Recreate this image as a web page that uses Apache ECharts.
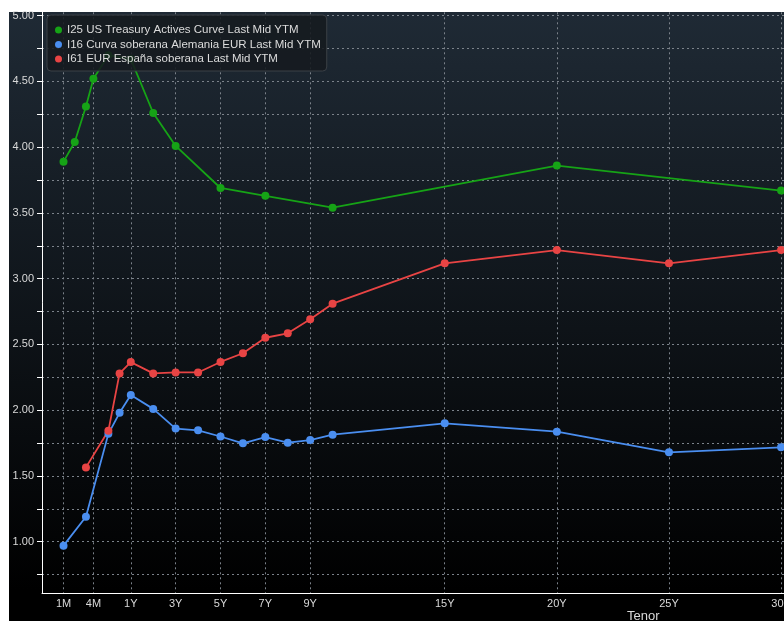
<!DOCTYPE html>
<html>
<head>
<meta charset="utf-8">
<script src="https://cdn.jsdelivr.net/npm/echarts@6/dist/echarts.min.js"></script>
<style>
  body { margin: 0; background: #fff; }
  #main { width: 784px; height: 621px; }
</style>
</head>
<body>
<div id="main"></div>
<script>
// tenors, yields in %
const usTenors = ['1M', '2M', '3M', '4M', '6M', '1Y', '2Y', '3Y', '5Y', '7Y', '10Y', '20Y', '30Y'];
const usYields = [3.89, 4.04, 4.31, 4.52, 4.70, 4.67, 4.26, 4.01, 3.69, 3.63, 3.54, 3.86, 3.67];

const deTenors = ['1M', '3M', '6M', '9M', '1Y', '2Y', '3Y', '4Y', '5Y', '6Y', '7Y', '8Y', '9Y', '10Y', '15Y', '20Y', '25Y', '30Y'];
const deYields = [0.97, 1.19, 1.82, 1.98, 2.115, 2.01, 1.86, 1.847, 1.80, 1.748, 1.796, 1.753, 1.773, 1.814, 1.90, 1.837, 1.68, 1.718];

const esTenors = ['3M', '6M', '9M', '1Y', '2Y', '3Y', '4Y', '5Y', '6Y', '7Y', '8Y', '9Y', '10Y', '15Y', '20Y', '25Y', '30Y'];
const esYields = [1.565, 1.843, 2.28, 2.366, 2.28, 2.287, 2.287, 2.367, 2.433, 2.551, 2.585, 2.691, 2.81, 3.117, 3.218, 3.117, 3.218];

const seriesNames = [
    'I25 US Treasury Actives Curve Last Mid YTM',
    'I16 Curva soberana Alemania EUR Last Mid YTM',
    'I61 EUR España soberana Last Mid YTM'
];

const xTickTenors = ['1M', '4M', '1Y', '3Y', '5Y', '7Y', '9Y', '15Y', '20Y', '25Y', '30Y'];
const yTicks = [0.75, 1, 1.25, 1.5, 1.75, 2, 2.25, 2.5, 2.75, 3, 3.25, 3.5, 3.75, 4, 4.25, 4.5, 4.75, 5];
const yLabels = [1, 1.5, 2, 2.5, 3, 3.5, 4, 4.5, 5];

// bloomberg stretches the short end: 1M, 3M, 6M, 1Y sit one step apart
const monthAnchors = [[1, -2], [3, -1], [6, 0], [12, 1]];

function tenorPos(t) {
    var n = parseFloat(t);
    if (t.slice(-1) == 'Y') return n;
    for (var i = 0; i < monthAnchors.length - 1; i++) {
        var a = monthAnchors[i], b = monthAnchors[i + 1];
        if (n >= a[0] && n <= b[0]) {
            return a[1] + (n - a[0]) / (b[0] - a[0]) * (b[1] - a[1]);
        }
    }
    return n / 12;
}

function toPoints(tenors, yields) {
    var pts = [];
    for (var i = 0; i < tenors.length; i++) {
        pts.push([tenorPos(tenors[i]), yields[i]]);
    }
    return pts;
}

var xTickPos = xTickTenors.map(tenorPos);

function xLabel(v) {
    for (var i = 0; i < xTickPos.length; i++) {
        if (Math.abs(xTickPos[i] - v) < 0.01) return xTickTenors[i];
    }
    return '';
}

var font = 'Liberation Sans';
var gridLine = { show: true, lineStyle: { color: '#7b828a', type: [2, 3], width: 1 } };

function lineSeries(name, color, tenors, yields) {
    return {
        name: name,
        type: 'line',
        data: toPoints(tenors, yields),
        symbol: 'circle',
        symbolSize: 8,
        color: color,
        lineStyle: { width: 1.8, color: color },
        itemStyle: { color: color }
    };
}

var myChart = echarts.init(document.getElementById('main'));
var option = {
    animation: false,
    backgroundColor: '#fff',
    graphic: [{
        type: 'rect',
        z: -100,
        silent: true,
        shape: { x: 9, y: 12, width: 775, height: 609 },
        style: {
            fill: new echarts.graphic.LinearGradient(0, 0, 0, 1, [
                { offset: 0, color: '#1f2a35' },
                { offset: 0.95, color: '#000000' },
                { offset: 1, color: '#000000' }
            ])
        }
    }],
    title: {
        text: 'Tenor',
        left: 627,
        top: 610,
        padding: 0,
        textStyle: { color: '#d9d9d9', fontSize: 13, fontWeight: 'normal', fontFamily: font }
    },
    grid: {
        left: 42,
        top: 12.3,
        right: 0,
        bottom: 27.5,
        outerBoundsMode: 'none',
        containLabel: false
    },
    legend: {
        data: seriesNames,
        orient: 'vertical',
        left: 47,
        top: 15,
        icon: 'circle',
        itemWidth: 7,
        itemHeight: 7,
        itemGap: 2.5,
        padding: [9, 6, 6, 8],
        backgroundColor: 'rgba(22,26,31,0.88)',
        borderColor: '#3b4046',
        borderWidth: 1,
        borderRadius: 4,
        textStyle: { color: '#dcdcdc', fontSize: 11.5, fontFamily: font, lineHeight: 12 }
    },
    xAxis: {
        type: 'value',
        min: -2.96,
        max: 30.13,
        axisLine: { show: true, onZero: false, lineStyle: { color: '#ffffff', width: 1 } },
        axisTick: { show: false, customValues: xTickPos },
        axisLabel: {
            customValues: xTickPos,
            formatter: xLabel,
            color: '#d9d9d9',
            fontSize: 11,
            fontFamily: font,
            margin: 5
        },
        splitLine: gridLine
    },
    yAxis: {
        type: 'value',
        min: 0.606,
        max: 5.026,
        axisLine: { show: true, onZero: false, lineStyle: { color: '#ffffff', width: 1 } },
        axisTick: { show: true, length: 5, customValues: yTicks, lineStyle: { color: '#ffffff' } },
        axisLabel: {
            customValues: yLabels,
            formatter: function (v) { return v.toFixed(2); },
            color: '#d9d9d9',
            fontSize: 11,
            fontFamily: font,
            margin: 8
        },
        splitLine: gridLine
    },
    series: [
        lineSeries(seriesNames[0], '#16a316', usTenors, usYields),
        lineSeries(seriesNames[1], '#4a8ef0', deTenors, deYields),
        lineSeries(seriesNames[2], '#e84444', esTenors, esYields)
    ]
};

myChart.setOption(option);
</script>
</body>
</html>
